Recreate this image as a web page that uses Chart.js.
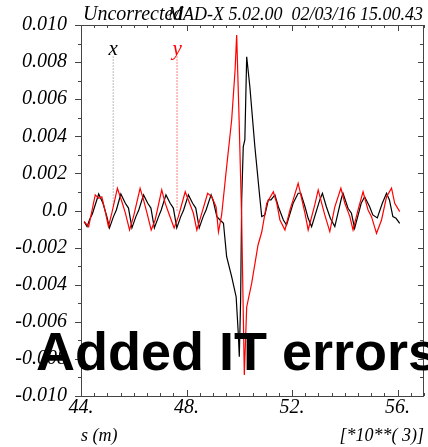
<!DOCTYPE html>
<html>
<head>
<meta charset="utf-8">
<script src="https://cdn.jsdelivr.net/npm/chart.js@4.4.0/dist/chart.umd.min.js"></script>
<style>
  html, body { margin: 0; padding: 0; background: #fff; }
  canvas { display: block; }
</style>
</head>
<body>
<canvas id="plot" width="428" height="447"></canvas>
<script>
// x plane (black curve): s in [*10**3 m]
const sX = [44.12,44.23,44.33,44.43,44.67,44.83,44.98,45.08,45.23,45.34,
  45.51,45.68,45.80,45.93,46.08,46.19,46.37,46.53,46.65,46.78,
  46.94,47.04,47.22,47.38,47.50,47.63,47.78,47.89,48.07,48.23,
  48.35,48.48,48.63,48.74,48.93,49.02,49.15,49.27,49.40,49.52,
  49.71,49.88,49.96,50.00,50.05,50.09,50.15,50.21,50.28,50.40,
  50.59,50.76,50.85,50.97,51.10,51.20,51.35,51.48,51.67,51.79,
  52.04,52.23,52.33,52.49,52.61,52.74,53.05,53.15,53.30,53.45,
  53.62,53.87,53.93,54.12,54.25,54.37,54.62,54.75,54.94,55.06,
  55.23,55.42,55.58,55.69,55.82,55.94,56.08];
const valX = [-0.00060,-0.00087,-0.00047,-0.00019,0.00089,0.00040,-0.00033,-0.00094,-0.00033,0.00003,
  0.00089,0.00039,0.00013,-0.00094,-0.00033,0.00003,0.00084,0.00039,0.00013,-0.00094,
  -0.00033,0.00003,0.00084,0.00039,0.00013,-0.00094,-0.00033,0.00003,0.00084,0.00039,
  0.00013,-0.00094,-0.00033,0.00003,0.00084,0.00047,-0.00033,-0.00051,-0.00069,-0.00249,
  -0.00357,-0.00465,-0.00660,-0.00788,-0.00482,0.00057,0.00344,0.00380,0.00829,0.00667,
  0.00344,0.00094,-0.00033,-0.00024,0.00057,0.00057,0.00084,0.00020,-0.00051,-0.00078,
  0.00039,0.00093,0.00093,0.00020,-0.00042,-0.00087,0.00057,0.00093,0.00020,-0.00042,
  -0.00087,0.00066,0.00093,0.00012,-0.00015,-0.00096,0.00039,0.00074,0.00020,-0.00024,
  -0.00040,0.00039,0.00093,0.00057,-0.00033,-0.00042,-0.00069];

// y plane (red curve)
const sY = [44.12,44.29,44.54,44.67,44.79,44.92,45.04,45.17,45.38,45.55,
  45.68,45.84,45.99,46.24,46.37,46.50,46.66,46.81,47.06,47.19,
  47.35,47.53,47.69,47.95,48.07,48.26,48.39,48.54,48.80,48.96,
  49.12,49.21,49.33,49.52,49.71,49.84,49.90,50.00,50.09,50.19,
  50.28,50.47,50.71,50.85,51.04,51.29,51.42,51.54,51.73,51.92,
  52.04,52.23,52.36,52.49,52.61,52.86,52.99,53.12,53.24,53.43,
  53.62,53.85,54.00,54.19,54.31,54.50,54.69,54.88,55.01,55.20,
  55.39,55.58,55.77,55.89,56.08];
const valY = [-0.00060,-0.00087,0.00084,0.00066,0.00074,-0.00006,-0.00087,-0.00013,0.00120,0.00047,
  -0.00013,-0.00105,-0.00033,0.00120,0.00057,-0.00013,-0.00105,-0.00051,0.00111,0.00040,
  -0.00024,-0.00094,-0.00033,0.00101,0.00057,-0.00015,-0.00105,-0.00033,0.00093,0.00074,
  0.00020,-0.00116,-0.00024,0.00236,0.00488,0.00757,0.00946,0.00450,-0.00051,-0.00887,
  -0.00520,-0.00392,-0.00186,-0.00116,0.00039,0.00101,0.00039,-0.00051,-0.00105,0.00003,
  0.00057,0.00147,0.00066,-0.00015,-0.00105,0.00030,0.00111,0.00040,-0.00024,-0.00114,
  0.00020,0.00120,0.00039,-0.00033,-0.00105,0.00003,0.00101,0.00003,-0.00033,-0.00123,
  -0.00051,0.00074,0.00120,0.00039,-0.00006];

// curve name markers (dotted drop lines with the plane letter on top)
const markerNames = ['x', 'y'];
const markerS = [45.22, 47.64];
const markerTop = [0.0083, 0.0083];
const markerBottom = [0.0002, 0.0];
const markerColors = ['#777777', '#ff0000'];

const titleLeft = 'Uncorrected';
const titleRight = 'MAD-X 5.02.00  02/03/16 15.00.43';
const xTitle = 's (m)';
const xScaleNote = '[*10**( 3)]';
const overlayText = 'Added IT errors';

const serif = '"Liberation Serif", "Times New Roman", serif';

function toPoints(s, v) {
  return s.map((x, i) => ({ x: x, y: v[i] }));
}

// frame, inward ticks, markers text and headings
const decorations = {
  id: 'decorations',
  afterDatasetsDraw(chart) {
    const { ctx, chartArea: a, scales: { x, y } } = chart;
    ctx.save();
    ctx.strokeStyle = '#444';
    ctx.lineWidth = 1;
    ctx.strokeRect(a.left + 0.5, a.top + 0.5, a.right - a.left - 1, a.bottom - a.top);
    ctx.beginPath();
    x.ticks.forEach(t => {
      const px = Math.round(x.getPixelForValue(t.value)) + 0.5;
      const len = Math.abs(t.value % 4) < 1e-6 ? 6 : 3;
      ctx.moveTo(px, a.bottom); ctx.lineTo(px, a.bottom - len);
      ctx.moveTo(px, a.top); ctx.lineTo(px, a.top + len);
    });
    y.ticks.forEach(t => {
      const py = Math.round(y.getPixelForValue(t.value)) + 0.5;
      const major = Math.round(t.value * 1000) % 2 === 0;
      ctx.moveTo(a.left, py); ctx.lineTo(a.left - (major ? 6 : 3), py);
      ctx.moveTo(a.right, py); ctx.lineTo(a.right - (major ? 6 : 4), py);
    });
    ctx.stroke();

    ctx.font = 'italic 21px ' + serif;
    ctx.textAlign = 'center';
    ctx.textBaseline = 'alphabetic';
    markerNames.forEach((name, i) => {
      const pt = chart.getDatasetMeta(2 + i).data[0];
      ctx.fillStyle = i === 0 ? '#000' : '#ff0000';
      ctx.fillText(name, pt.x, pt.y - 2);
    });
    ctx.restore();
  },
  afterDraw(chart) {
    const { ctx, chartArea: a } = chart;
    ctx.save();
    ctx.fillStyle = '#000';
    ctx.textBaseline = 'alphabetic';
    ctx.font = 'italic 20px ' + serif;
    ctx.textAlign = 'left';
    ctx.fillText(titleLeft, a.left + 2, 20);
    ctx.font = 'italic 18px ' + serif;
    ctx.textAlign = 'right';
    ctx.fillText(titleRight, 423, 20);

    ctx.textAlign = 'left';
    ctx.fillText(xTitle, a.left, 441);
    ctx.textAlign = 'right';
    ctx.fillText(xScaleNote, 424, 441);

    ctx.font = 'bold 54px "Liberation Sans", Arial, sans-serif';
    ctx.textAlign = 'left';
    ctx.fillText(overlayText, 36, 370);
    ctx.restore();
  }
};

const datasets = [
  { data: toPoints(sY, valY), borderColor: '#ff0000', borderWidth: 1.2 },
  { data: toPoints(sX, valX), borderColor: '#000000', borderWidth: 1.2 }
];
markerNames.forEach((n, i) => {
  datasets.push({
    data: [{ x: markerS[i], y: markerTop[i] }, { x: markerS[i], y: markerBottom[i] }],
    borderColor: markerColors[i],
    borderWidth: 1,
    borderDash: [1, 2]
  });
});
datasets.forEach(d => { d.pointRadius = 0; d.tension = 0; d.fill = false; });

new Chart(document.getElementById('plot'), {
  type: 'line',
  data: { datasets: datasets },
  options: {
    responsive: false,
    animation: false,
    devicePixelRatio: 1,
    layout: { padding: { top: 25, right: 4, left: 0, bottom: 0 } },
    plugins: { legend: { display: false }, tooltip: { enabled: false } },
    scales: {
      x: {
        type: 'linear', min: 44, max: 57,
        afterFit: s => { s.height = 51; },
        grid: { display: false },
        border: { display: false },
        ticks: {
          stepSize: 0.5, autoSkip: false, maxRotation: 0, maxTicksLimit: 100, padding: -8,
          color: '#000', font: { family: serif, style: 'italic', size: 20 },
          callback: v => Math.abs(v % 4) < 1e-6 && v < 57 ? v + '.' : ''
        }
      },
      y: {
        min: -0.01, max: 0.01,
        afterFit: s => { s.width = 81; },
        grid: { display: false },
        border: { display: false },
        ticks: {
          stepSize: 0.001, autoSkip: false, maxTicksLimit: 100, padding: 6,
          color: '#000', font: { family: serif, style: 'italic', size: 20 },
          callback: v => {
            const n = Math.round(v * 1000);
            if (n % 2 !== 0) return '';
            return n === 0 ? '0.0' : (n / 1000).toFixed(3);
          }
        }
      }
    }
  },
  plugins: [decorations]
});
</script>
</body>
</html>
